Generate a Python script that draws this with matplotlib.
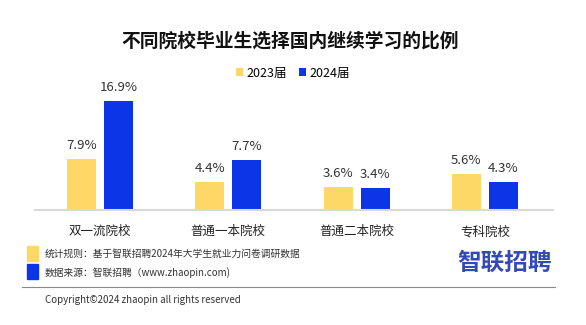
import matplotlib.pyplot as plt
import numpy as np
from matplotlib.patches import Rectangle

plt.rcParams['font.family'] = ['Noto Sans CJK SC', 'DejaVu Sans']

# data
categories = ['双一流院校', '普通一本院校', '普通二本院校', '专科院校']
series_names = ['2023届', '2024届']
values_2023 = [7.9, 4.4, 3.6, 5.6]
values_2024 = [16.9, 7.7, 3.4, 4.3]

YELLOW = '#FDD866'
BLUE = '#0B35E6'

W, H = 586, 325
fig = plt.figure(figsize=(W / 100, H / 100), dpi=100)

# main axes placed in pixel terms
left, right, base, top = 35, 553, 210, 81
ax = fig.add_axes([left / W, 1 - base / H, (right - left) / W, (base - top) / H])

x = np.arange(len(categories))
bw = 0.226
off = 0.144
b1 = ax.bar(x - off, values_2023, bw, color=YELLOW, label=series_names[0])
b2 = ax.bar(x + off, values_2024, bw, color=BLUE, label=series_names[1])

for bars, vals in [(b1, values_2023), (b2, values_2024)]:
    for rect, v in zip(bars, vals):
        ax.annotate(f'{v}%', (rect.get_x() + rect.get_width() / 2, v),
                    xytext=(0, 5), textcoords='offset points',
                    ha='center', va='bottom', fontsize=9.5, color='#333333')

ax.set_xlim(-0.507, 3.531)
ax.set_ylim(0, 20)
ax.set_xticks(x)
ax.set_xticklabels(categories, fontsize=9, color='#222222')
ax.tick_params(axis='x', length=0, pad=11)
ax.set_yticks([])
for s in ['top', 'right', 'left']:
    ax.spines[s].set_visible(False)
ax.spines['bottom'].set_color('#d9d9d9')
ax.spines['bottom'].set_linewidth(1.5)

# title + legend
fig.text(290 / W, 1 - 41 / H, '不同院校毕业生选择国内继续学习的比例',
         ha='center', va='center', fontsize=13.5, fontweight='bold', color='#111111')
fig.legend(handles=[b1, b2], loc='center', bbox_to_anchor=(293 / W, 1 - 73 / H),
           ncol=2, frameon=False, fontsize=9, handlelength=0.6, handleheight=0.6,
           handletextpad=0.3, columnspacing=0.9)

# footnotes
fig.patches.append(Rectangle((27 / W, 1 - 261 / H), 11 / W, 15 / H,
                             transform=fig.transFigure, color=YELLOW))
fig.patches.append(Rectangle((27 / W, 1 - 279 / H), 11 / W, 15 / H,
                             transform=fig.transFigure, color=BLUE))
fig.text(45 / W, 1 - 254 / H, '统计规则：基于智联招聘2024年大学生就业力问卷调研数据',
         ha='left', va='center', fontsize=7, color='#333333')
fig.text(45 / W, 1 - 273 / H, '数据来源：智联招聘（www.zhaopin.com)',
         ha='left', va='center', fontsize=7, color='#333333')
fig.add_artist(plt.Line2D([22 / W, 555 / W], [1 - 287 / H, 1 - 287 / H],
                          color='#888888', lw=0.8))
fig.text(45 / W, 1 - 300 / H, 'Copyright©2024 zhaopin all rights reserved',
         ha='left', va='center', fontsize=7, color='#333333')

# logo
fig.text(505 / W, 1 - 263 / H, '智联招聘', ha='center', va='center',
         fontsize=17, fontweight='bold', color='#3449B8')

fig.savefig('out.png', dpi=100)
